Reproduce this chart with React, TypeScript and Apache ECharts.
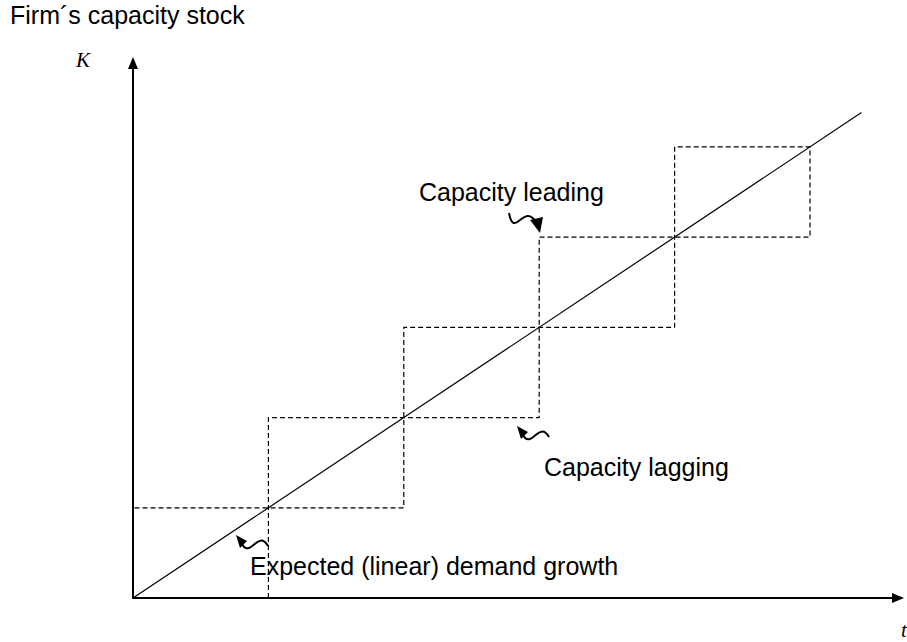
import React, { useEffect, useRef } from "react";
import * as echarts from "echarts";

// Expected (linear) demand growth: straight line through the origin
const demandT = [0, 5.38];
const demandK = [0, 5.38];

// Capacity stock path (dashed): leading and lagging steps joined in one path
const capacityT = [1, 1, 3, 3, 5, 5, 4, 4, 2, 2, 0];
const capacityK = [0, 2, 2, 4, 4, 5, 5, 3, 3, 1, 1];

const axisMaxT = 5.65;
const axisMaxK = 5.93;

const titleText = "Firm\u00b4s capacity stock";
const yAxisName = "K";
const xAxisName = "t";
const leadingLabel = "Capacity leading";
const laggingLabel = "Capacity lagging";
const demandLabel = "Expected (linear) demand growth";

const SANS = "'Liberation Sans', Arial, sans-serif";
const SERIF = "'Liberation Serif', 'Times New Roman', serif";

function squiggleUpLeft(tx: number, ty: number) {
  return [
    {
      type: "polygon",
      shape: { points: [[tx, ty], [tx + 11, ty + 6], [tx + 4, ty + 13]] },
      style: { fill: "#000" },
    },
    {
      type: "bezierCurve",
      shape: {
        x1: tx + 6, y1: ty + 9,
        cpx1: tx + 14, cpy1: ty + 24,
        cpx2: tx + 22, cpy2: ty - 6,
        x2: tx + 32, y2: ty + 11,
      },
      style: { stroke: "#000", lineWidth: 2, fill: null },
    },
  ];
}

function squiggleDown() {
  return [
    {
      type: "bezierCurve",
      shape: {
        x1: 509, y1: 213,
        cpx1: 514, cpy1: 240,
        cpx2: 524, cpy2: 202,
        x2: 536, y2: 222,
      },
      style: { stroke: "#000", lineWidth: 2, fill: null },
    },
    {
      type: "polygon",
      shape: { points: [[530, 220], [543, 217], [540, 233]] },
      style: { fill: "#000" },
    },
  ];
}

function txt(text: string, x: number, y: number, font: string) {
  return {
    type: "text",
    style: { text, x, y, font, fill: "#000", verticalAlign: "middle", align: "left" },
  };
}

export default function App() {
  const ref = useRef<HTMLDivElement>(null);
  useEffect(() => {
    if (!ref.current) return;
    const chart = echarts.init(ref.current, null, { renderer: "svg" });
    const demand = demandT.map((t, i) => [t, demandK[i]]);
    const capacity = capacityT.map((t, i) => [t, capacityK[i]]);
    chart.setOption({
      animation: false,
      backgroundColor: "#fff",
      grid: { left: 133, right: 9, top: 63, bottom: 44, containLabel: false },
      xAxis: {
        type: "value",
        min: 0,
        max: axisMaxT,
        axisLine: {
          show: true,
          lineStyle: { color: "#000", width: 2 },
          symbol: ["none", "triangle"],
          symbolSize: [10, 12],
        },
        axisTick: { show: false },
        axisLabel: { show: false },
        splitLine: { show: false },
      },
      yAxis: {
        type: "value",
        min: 0,
        max: axisMaxK,
        axisLine: {
          show: true,
          lineStyle: { color: "#000", width: 2 },
          symbol: ["none", "triangle"],
          symbolSize: [10, 12],
        },
        axisTick: { show: false },
        axisLabel: { show: false },
        splitLine: { show: false },
      },
      series: [
        {
          type: "line",
          data: demand,
          showSymbol: false,
          symbol: "none",
          lineStyle: { color: "#000", width: 1.2 },
          z: 3,
        },
        {
          type: "line",
          data: capacity,
          showSymbol: false,
          symbol: "none",
          lineStyle: { color: "#000", width: 1.2, type: [5, 3] },
          z: 2,
        },
      ],
      graphic: [
        txt(titleText, 10, 15.3, `25px ${SANS}`),
        txt(yAxisName, 76, 60, `italic 21px ${SERIF}`),
        txt(xAxisName, 901, 630, `italic 21px ${SERIF}`),
        txt(leadingLabel, 419, 191.8, `25px ${SANS}`),
        txt(laggingLabel, 544, 466.5, `25px ${SANS}`),
        txt(demandLabel, 250, 566.3, `25px ${SANS}`),
        ...squiggleDown(),
        ...squiggleUpLeft(517, 426),
        ...squiggleUpLeft(236, 535),
      ],
    });
    return () => chart.dispose();
  }, []);
  return (
    <div
      ref={ref}
      style={{ position: "fixed", left: 0, top: 0, width: 907, height: 642 }}
    />
  );
}
